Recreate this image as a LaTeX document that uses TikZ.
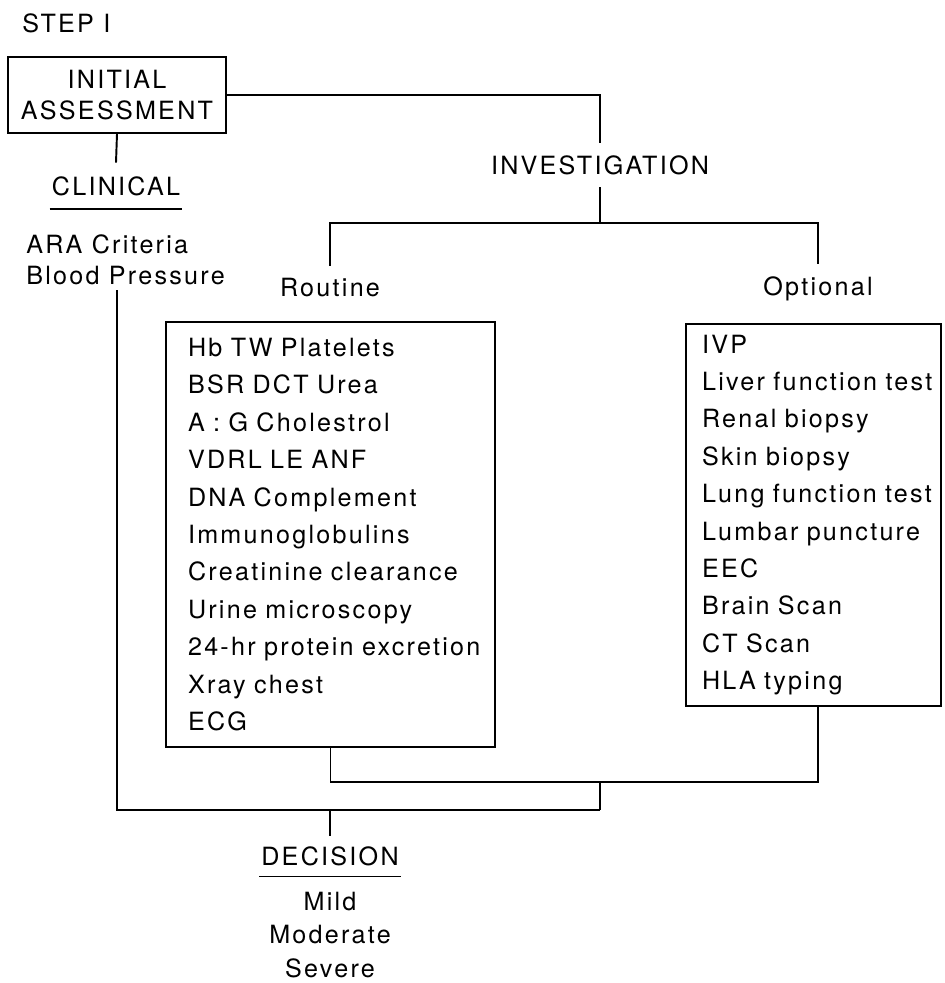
\documentclass[tikz,border=0pt]{standalone}
\usepackage{fontspec}
\usetikzlibrary{positioning, calc}
\newfontfamily\chartfont{TeX Gyre Heros}[LetterSpace=9]
\tikzset{
  ink/.style={line width=1.1pt, draw=black},
  head/.style={font=\chartfont\fontsize{14.3}{17}\selectfont, inner xsep=0.04cm, inner ysep=0.25cm},
  framebox/.style={draw, line width=1.1pt, align=center,
      font=\chartfont\fontsize{14.3}{17.5}\selectfont},
  testlist/.style={draw, line width=1.1pt, align=left,
      font=\chartfont\fontsize{14.3}{21.3}\selectfont},
}

\begin{document}
\begin{tikzpicture}[x=0.02cm, y=-0.02cm]
\useasboundingbox (0,0) rectangle (944,983);

% ===================== assessment =====================
\node[head, anchor=west, inner sep=0pt] (stepone) at (22,23) {STEP I};
\node[framebox, minimum width=4.36cm, minimum height=1.52cm] (init) at (117,95)
     {INITIAL\\ASSESSMENT};

% ===================== clinical branch =====================
\node[head, inner ysep=0.27cm] (clinical) at (116,186) {CLINICAL};
\node[head, anchor=west, align=left, inner xsep=0pt, inner ysep=0.1cm,
      font=\chartfont\fontsize{14.3}{17.6}\selectfont] (clinitems) at (26,260)
     {ARA Criteria\\Blood Pressure};

% ===================== investigation branch =====================
\node[head] (invest) at (600,165) {INVESTIGATION};
\node[head] (routine) at (330,288) {Routine};
\node[head] (optional) at (818,289) {Optional};

\node[testlist, minimum width=6.58cm, minimum height=8.5cm, text width=5.70cm,
      inner xsep=0.44cm] (routinebox) at (330.5,534.5)
     {Hb TW Platelets\\BSR DCT Urea\\A : G Cholestrol\\VDRL LE ANF\\DNA Complement\\
      Immunoglobulins\\Creatinine clearance\\Urine microscopy\\24-hr protein excretion\\
      Xray chest\\ECG};
\node[testlist, minimum width=5.1cm, minimum height=7.64cm, text width=4.46cm,
      inner xsep=0.32cm] (optbox) at (813.5,515)
     {IVP\\\mbox{Liver function test}\\Renal biopsy\\Skin biopsy\\\mbox{Lung function test}\\
      Lumbar puncture\\EEC\\Brain Scan\\CT Scan\\HLA typing};

% ===================== decision =====================
\node[head, inner ysep=0.21cm] (decision) at (330,856) {DECISION};
\node[head, align=center, inner sep=0pt,
      font=\chartfont\fontsize{14.3}{19.2}\selectfont] (decitems) at (330,935)
     {Mild\\Moderate\\Severe};

\coordinate (fork) at (600,223);
\coordinate (merge) at (600,782);
\coordinate (join) at (600,810);

% connectors
\draw[ink] (init.east) -| (invest.north);
\draw[ink] (init.south) -- (clinical.north);
\draw[ink] (clinical.south west) -- (clinical.south east);
\draw[ink] (invest.south) -- (fork);
\draw[ink] (routine.north) |- (fork) -| (optional.north);
\draw[ink] (routinebox.south) |- (merge) -| (optbox.south -| optional.north);
\draw[ink] (merge) -- (join);
\draw[ink] (clinitems.south -| init.south) |- (join);
\draw[ink] (decision.north) -- (decision.north |- join);
\draw[ink] (decision.south west) -- (decision.south east);

\end{tikzpicture}
\end{document}
